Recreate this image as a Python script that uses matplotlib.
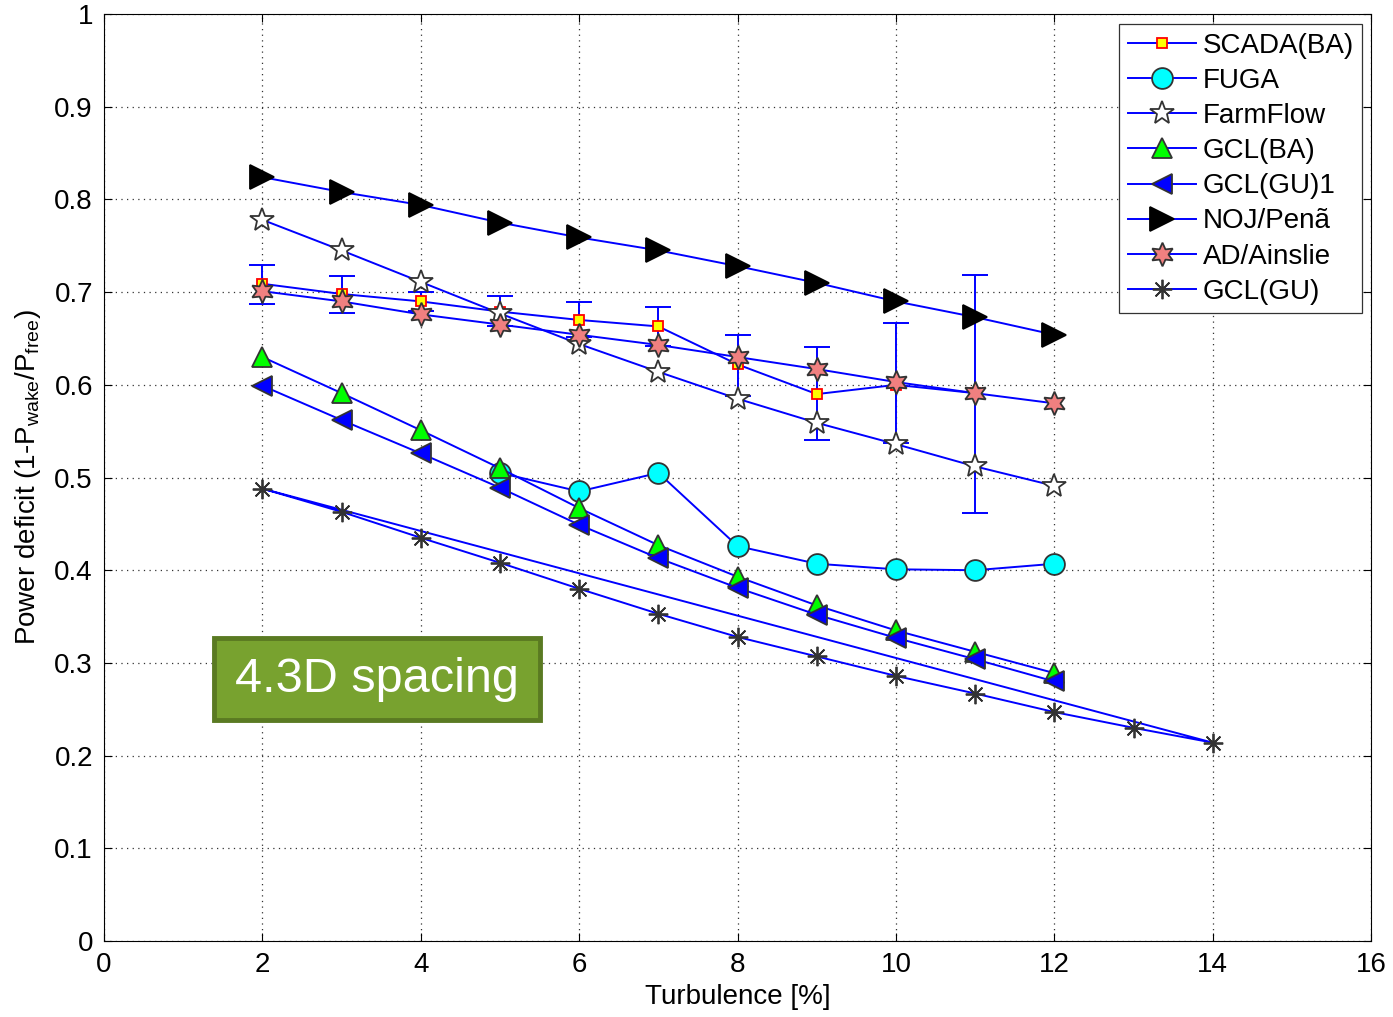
import numpy as np
import matplotlib
matplotlib.use("Agg")
import matplotlib.pyplot as plt
from matplotlib.patches import Rectangle

plt.rcParams['font.family'] = ['Liberation Sans', 'DejaVu Sans']
plt.rcParams['mathtext.fontset'] = 'custom'
plt.rcParams['mathtext.rm'] = 'Liberation Sans'
plt.rcParams['mathtext.default'] = 'regular'

# data
x_all = [2, 3, 4, 5, 6, 7, 8, 9, 10, 11, 12]

scada_x = [2, 3, 4, 5, 6, 7, 8, 9, 10, 11]
scada = [0.709, 0.698, 0.690, 0.679, 0.670, 0.663, 0.622, 0.590, 0.600, 0.591]
scada_lo = [0.687, 0.677, 0.680, 0.664, 0.652, 0.642, 0.588, 0.540, 0.537, 0.462]
scada_hi = [0.729, 0.717, 0.700, 0.696, 0.689, 0.684, 0.654, 0.641, 0.667, 0.718]

fuga_x = [5, 6, 7, 8, 9, 10, 11, 12]
fuga = [0.505, 0.485, 0.505, 0.426, 0.407, 0.401, 0.400, 0.407]

farmflow = [0.778, 0.745, 0.711, 0.677, 0.644, 0.614, 0.585, 0.559, 0.536, 0.512, 0.491]
gcl_ba = [0.630, 0.591, 0.551, 0.510, 0.467, 0.427, 0.393, 0.362, 0.335, 0.312, 0.289]
gcl_gu1 = [0.599, 0.562, 0.526, 0.489, 0.449, 0.413, 0.381, 0.352, 0.327, 0.304, 0.280]
noj = [0.824, 0.808, 0.794, 0.775, 0.759, 0.745, 0.728, 0.710, 0.690, 0.673, 0.654]
ad = [0.701, 0.690, 0.676, 0.665, 0.654, 0.643, 0.630, 0.617, 0.603, 0.591, 0.580]

gu_x = [2, 3, 4, 5, 6, 7, 8, 9, 10, 11, 12, 13, 14]
gcl_gu = [0.488, 0.463, 0.435, 0.408, 0.380, 0.353, 0.328, 0.307, 0.286, 0.267, 0.247, 0.230, 0.214]

fig = plt.figure(figsize=(13.93, 10.17), dpi=100)
ax = fig.add_axes([0.0747, 0.0747, 0.9096, 0.9115])

blue = '#0000FF'
edge = '#333333'
lw = 1.4

ax.errorbar(scada_x, scada,
            yerr=[np.array(scada) - np.array(scada_lo), np.array(scada_hi) - np.array(scada)],
            fmt='none', ecolor=blue, elinewidth=lw, capsize=9.5, capthick=lw, zorder=2)
ax.plot(scada_x, scada, '-s', color=blue, lw=lw, ms=7, mfc='#FFFF00', mec='#FF0000', mew=1.3,
        label='SCADA(BA)', zorder=3)
ax.plot(fuga_x, fuga, '-o', color=blue, lw=lw, ms=15, mfc='#00FFFF', mec=edge, mew=1.3,
        label='FUGA', zorder=3)
ax.plot(x_all, farmflow, '-*', color=blue, lw=lw, ms=18, mfc='white', mec=edge, mew=1.3,
        label='FarmFlow', zorder=3)
ax.plot(x_all, gcl_ba, '-^', color=blue, lw=lw, ms=15, mfc='#00FF00', mec=edge, mew=1.3,
        label='GCL(BA)', zorder=3)
ax.plot(x_all, gcl_gu1, '-<', color=blue, lw=lw, ms=15, mfc='#0000FF', mec=edge, mew=1.3,
        label='GCL(GU)1', zorder=3)
ax.plot(x_all, noj, '->', color=blue, lw=lw, ms=17, mfc='black', mec='black', mew=1.3,
        label='NOJ/Penã', zorder=3)
ax.plot(x_all, ad, '-', marker=(6, 1, 0), color=blue, lw=lw, ms=17, mfc='#F08080', mec=edge,
        mew=1.3, label='AD/Ainslie', zorder=3)
# GCL(GU) curve closes back to its first point
ax.plot(gu_x + [gu_x[0]], gcl_gu + [gcl_gu[0]], '-', marker=(8, 2, 0), color=blue, lw=lw,
        ms=14, mec=edge, mew=1.3, markevery=list(range(len(gu_x))),
        label='GCL(GU)', zorder=3)

ax.set_xlim(0, 16)
ax.set_ylim(0, 1)
ax.set_xticks(range(0, 17, 2))
ax.set_yticks(np.arange(0, 1.01, 0.1))
ax.set_yticklabels(['0', '0.1', '0.2', '0.3', '0.4', '0.5', '0.6', '0.7', '0.8', '0.9', '1'])
ax.tick_params(direction='in', top=True, right=True, length=6, width=0.8,
               labelsize=20, pad=8)
ax.grid(True, linestyle=(0, (1, 3.5)), color='#333333', lw=0.9)
for s in ax.spines.values():
    s.set_linewidth(0.8)

ax.set_xlabel('Turbulence [%]', fontsize=20, labelpad=4)
ax.set_ylabel(r'Power deficit (1-P$_{wake}$/P$_{free}$)', fontsize=20, labelpad=8)

leg = ax.legend(loc='upper right', fontsize=20, frameon=True, fancybox=False,
                framealpha=1, edgecolor='#333333', handlelength=2.45,
                labelspacing=0.33, borderpad=0.3, handletextpad=0.25,
                bbox_to_anchor=(0.993, 0.989), borderaxespad=0)
leg.get_frame().set_linewidth(0.9)

ax.add_patch(Rectangle((0.0868, 0.238), 0.257, 0.089, transform=ax.transAxes,
                       facecolor='#78A22F', edgecolor='#5A7A22', lw=3.5, zorder=5))
ax.text(0.2155, 0.2825, '4.3D spacing', transform=ax.transAxes, fontsize=35,
        color='white', ha='center', va='center', zorder=6)

fig.savefig('out.png', dpi=100, facecolor='white')
